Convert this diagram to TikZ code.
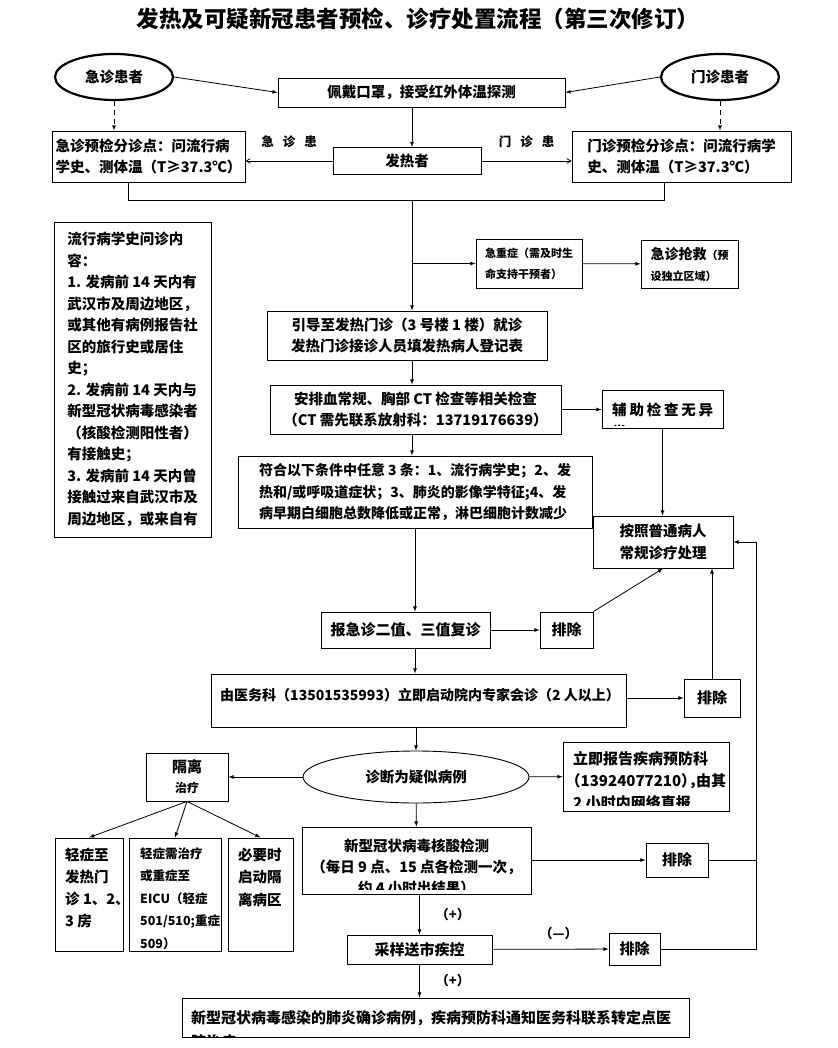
\documentclass[tikz,border=0pt]{standalone}
\usepackage{fontspec}
\setmainfont{Noto Sans CJK SC}
\usetikzlibrary{arrows,shapes.geometric}

\begin{document}
\begin{tikzpicture}[x=1pt,y=-1pt,>=latex]
\tikzstyle{box}=[draw=black,line width=0.9pt,inner sep=0pt,align=center,font=\bfseries\fontsize{14.5}{21.5}\selectfont]
\tikzstyle{oval}=[ellipse,draw=black,inner sep=0pt,font=\bfseries\fontsize{14.5}{17}\selectfont]
\tikzstyle{txt}=[inner sep=0pt,align=left,font=\bfseries\fontsize{14.5}{22}\selectfont]
\tikzstyle{tag}=[inner sep=0pt,font=\bfseries\fontsize{12.5}{14}\selectfont]
\tikzstyle{line}=[line width=0.8pt]
\useasboundingbox (0,0) rectangle (837,1048);

\node[font=\bfseries\fontsize{22.5}{26}\selectfont] (0) at (418,19) {发热及可疑新冠患者预检、诊疗处置流程（第三次修订）};

% top row
\node[oval,line width=2.2pt,minimum width=118,minimum height=46] (1) at (114,77) {急诊患者};
\node[oval,line width=2.2pt,minimum width=118,minimum height=46] (2) at (720,77) {门诊患者};
\node[box,minimum width=287,minimum height=29] (3) at (421.5,92.5) {佩戴口罩，接受红外体温探测};
\node[box,minimum width=148,minimum height=27] (4) at (407,161) {发热者};
\node[box,align=left,minimum width=193,minimum height=51] (5) at (148.5,156.5) {急诊预检分诊点：问流行病\\学史、测体温（T≥37.3℃）};
\node[box,align=left,minimum width=219,minimum height=51] (6) at (681.5,156.5) {门诊预检分诊点：问流行病学\\史、测体温（T≥37.3℃）};

% left column
\node[box,align=left,minimum width=157,minimum height=315] (7) at (132.5,379.5) {流行病学史问诊内\\容：\\1. 发病前 14 天内有\\武汉市及周边地区，\\或其他有病例报告社\\区的旅行史或居住\\史；\\2. 发病前 14 天内与\\新型冠状病毒感染者\\（核酸检测阳性者）\\有接触史；\\3. 发病前 14 天内曾\\接触过来自武汉市及\\周边地区，或来自有};

% main column
\node[box,align=left,minimum width=106,minimum height=49,font=\bfseries\fontsize{11}{21}\selectfont] (8) at (529,263.5) {急重症（需及时生\\命支持干预者）};
\node[box,align=left,minimum width=97,minimum height=48,font=\bfseries\fontsize{11}{21}\selectfont] (9) at (689.5,264) {{\fontsize{14}{21}\selectfont 急诊抢救}（预\\设独立区域）};
\node[box,minimum width=280,minimum height=49] (10) at (407,335.5) {引导至发热门诊（3 号楼 1 楼）就诊\\发热门诊接诊人员填发热病人登记表};
\node[box,minimum width=291,minimum height=49] (11) at (415.5,409.5) {安排血常规、胸部 CT 检查等相关检查\\（CT 需先联系放射科：13719176639）};
\node[box,minimum width=121,minimum height=38] (12) at (662.5,409) {};
\node[box,align=left,minimum width=354,minimum height=72,font=\bfseries\fontsize{14}{21.5}\selectfont] (13) at (415,492) {符合以下条件中任意 3 条：1、流行病学史；2、发\\热和/或呼吸道症状；3、肺炎的影像学特征;4、发\\病早期白细胞总数降低或正常，淋巴细胞计数减少};
\node[box,minimum width=140,minimum height=52] (14) at (663,542) {按照普通病人\\常规诊疗处理};
\node[box,minimum width=169,minimum height=36,font=\bfseries\fontsize{15}{18}\selectfont] (15) at (405.5,630) {报急诊二值、三值复诊};
\node[box,minimum width=53,minimum height=36,font=\bfseries\fontsize{15}{18}\selectfont] (16) at (566.5,630) {排除};
\node[box,minimum width=415,minimum height=53] (17) at (418.5,700.5) {};
\node[box,minimum width=56,minimum height=38,font=\bfseries\fontsize{15}{18}\selectfont] (18) at (712,698) {排除};
\node[oval,line width=0.9pt,minimum width=226,minimum height=52] (19) at (416,777) {诊断为疑似病例};
\node[box,minimum width=82,minimum height=48,font=\bfseries\fontsize{12}{20}\selectfont] (20) at (187,777) {{\fontsize{15}{20}\selectfont 隔离}\\治疗};
\node[box,minimum width=166,minimum height=69] (21) at (646,776.5) {};
\node[box,minimum width=229,minimum height=67] (22) at (416.5,860.5) {};
\node[box,minimum width=62,minimum height=34,font=\bfseries\fontsize{15}{18}\selectfont] (23) at (677,860) {排除};
\node[box,minimum width=68,minimum height=113] (24) at (89,894.5) {};
\node[box,minimum width=92,minimum height=113] (25) at (175,894.5) {};
\node[box,minimum width=65,minimum height=113] (26) at (260.5,894.5) {};
\node[box,minimum width=145,minimum height=29,font=\bfseries\fontsize{15}{18}\selectfont] (27) at (419.5,949.5) {采样送市疾控};
\node[box,minimum width=51,minimum height=32,font=\bfseries\fontsize{15}{18}\selectfont] (28) at (634.5,949) {排除};
\node[box,minimum width=507,minimum height=39] (29) at (435.5,1017.5) {};

% texts in the boxes
\node[txt,anchor=north,align=center,font=\bfseries\fontsize{14}{22}\selectfont] (17t) at (420,688.5) {由医务科（13501535993）立即启动院内专家会诊（2 人以上）};
\node[txt,anchor=north west] (24t) at (65,847.5) {轻症至\\发热门\\诊 1、2、\\3 房};
\node[txt,anchor=north west,font=\bfseries\fontsize{12.5}{22.5}\selectfont] (25t) at (140,847.5) {轻症需治疗\\或重症至\\EICU（轻症\\501/510;重症\\509）};
\node[txt,anchor=north west,font=\bfseries\fontsize{14.5}{22.5}\selectfont] (26t) at (238,847.5) {必要时\\启动隔\\离病区};
\begin{scope}
\clip ([yshift=3pt]12.south west) rectangle (12.north east);
\node[txt,anchor=north west,font=\bfseries\fontsize{14.5}{22}\selectfont] (12t) at (612,402.5) {辅\hspace{2.8pt}助\hspace{2.8pt}检\hspace{2.8pt}查\hspace{2.8pt}无\hspace{2.8pt}异\\常};
\end{scope}
\begin{scope}
\clip ([yshift=6pt]21.south west) rectangle (21.north east);
\node[txt,anchor=north west,font=\bfseries\fontsize{15}{22}\selectfont] (21t) at (573,751.3) {立即报告疾病预防科\\{\addfontfeature{RawFeature=+halt}（13924077210），由其}\\2 小时内网络直报};
\end{scope}
\begin{scope}
\clip ([yshift=5pt]22.south west) rectangle (22.north east);
\node[txt,anchor=north,align=center,font=\bfseries\fontsize{14.5}{21}\selectfont] (22t) at (416.5,838.5) {新型冠状病毒核酸检测\\（每日 9 点、15 点各检测一次，\\约 4 小时出结果）};
\end{scope}
\begin{scope}
\clip ([yshift=1pt]29.south west) rectangle (29.north east);
\node[txt,anchor=north west,font=\bfseries\fontsize{15}{24}\selectfont] (29t) at (191,1010.3) {新型冠状病毒感染的肺炎确诊病例，疾病预防科通知医务科联系转定点医\\院治疗};
\end{scope}

% connectors
\coordinate (a) at (128,200);
\coordinate (b) at (664,200);
\coordinate (c) at (412,200);
\coordinate (r) at (756,949);
\draw[line,->] (1.east) -- (3.west);
\draw[line,->] (2.west) -- (3.east);
\draw[line,->,dash pattern=on 5pt off 4pt] (1) -- (1 |- 5.north);
\draw[line,->,dash pattern=on 5pt off 4pt] (2) -- (2 |- 6.north);
\draw[line,->] (c |- 3.south) -- (c |- 4.north);
\draw[line,-angle 60] (4.west) -- (4.west -| 5.east) node[tag,midway,above=13pt] {急\hspace{9pt}诊\hspace{9pt}患};
\draw[line,-angle 60] (4.east) -- (4.east -| 6.west) node[tag,midway,above=13pt] {门\hspace{9pt}诊\hspace{9pt}患};
\draw[line] (a |- 5.south) -- (a) -- (b) -- (b |- 6.south);
\draw[line,->] (c) -- (c |- 10.north);
\draw[line,->] (c |- 8) -- (8);
\draw[line,->] (8) -- (9);
\draw[line,->] (c |- 10.south) -- (c |- 11.north);
\draw[line,->] (11.east) -- (11.east -| 12.west);
\draw[line,->] (c |- 11.south) -- (c |- 13.north);
\draw[line,->] (12) -- (12 |- 14.north);
\draw[line,->] (13.south) -- (13.south |- 15.north);
\draw[line,->] (15) -- (16);
\draw[line,->] (16.north east) -- (14.south);
\draw[line,->] (13.south |- 15.south) -- (13.south |- 17.north);
\draw[line,->] (17.east |- 18) -- (18);
\draw[line,->] (18) -- (18 |- 14.south);
\draw[line,->] (19 |- 17.south) -- (19);
\draw[line,->] (19) -- (20);
\draw[line,->] (19) -- (21);
\draw[line,->] (19) -- (22);
\draw[line,->] (20.south) -- (24.north);
\draw[line,->] (20.south) -- (25.north);
\draw[line,->] (20.south) -- (26.north);
\draw[line,->] (22.east |- 23) -- (23);
\draw[line,->] (27 |- 22.south) -- (27) node[tag,midway,right=16pt,font=\bfseries\fontsize{13}{15}\selectfont] {（+）};
\draw[line,->] (27) -- (28) node[tag,pos=0.57,above=9pt,font=\bfseries\fontsize{13}{15}\selectfont] {（—）};
\draw[line,->] (27) -- (27 |- 29.north) node[tag,midway,right=16pt,font=\bfseries\fontsize{13}{15}\selectfont] {（+）};
\draw[line] (23) -- (23 -| r);
\draw[line,->] (28) -- (r) -- (r |- 14.east) -- (14.east);
\end{tikzpicture}
\end{document}
